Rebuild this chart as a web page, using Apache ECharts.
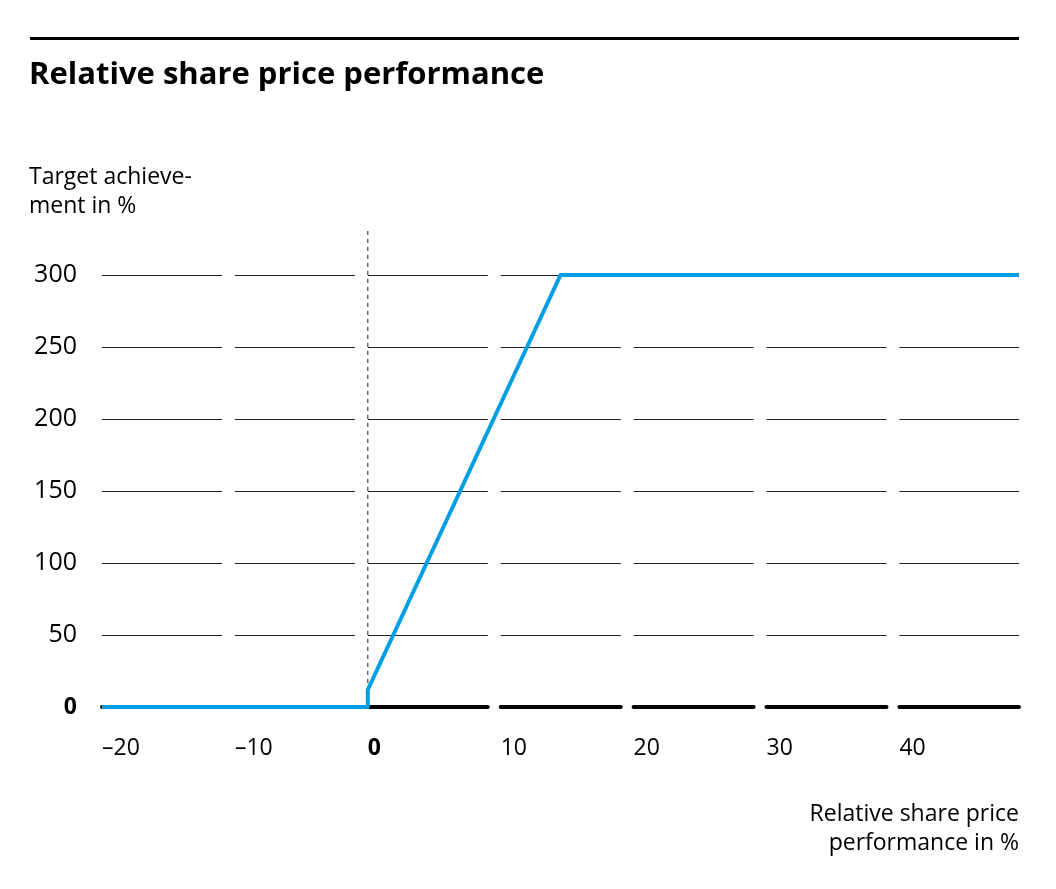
<!DOCTYPE html>
<html>
<head>
<meta charset="utf-8">
<script src="https://cdn.jsdelivr.net/npm/echarts@6/dist/echarts.min.js"></script>
<style>
html,body{margin:0;padding:0;background:#fff;}
#chart{width:1056px;height:889px;}
</style>
</head>
<body>
<div id="chart"></div>
<script>
const titleText = 'Relative share price performance';
const yAxisName = 'Target achieve-\nment in %';
const xAxisName = 'Relative share price\nperformance in %';
const performanceX = [-20, 0, 0, 14.5, 49];
const achievementY = [0, 0, 12, 300, 300];
const zeroMarkerX = [0, 0];
const zeroMarkerY = [0, 332];
const xMin = -20, xMax = 49, xStep = 10;
const yMin = 0, yMax = 300, yStep = 50;

const FONT = '"Open Sans", "Noto Sans", sans-serif';
const chart = echarts.init(document.getElementById('chart'));
const lineData = performanceX.map((x, i) => [x, achievementY[i]]);
const markerData = zeroMarkerX.map((x, i) => [x, zeroMarkerY[i]]);

chart.setOption({
  animation: false,
  backgroundColor: '#fff',
  graphic: [{
    type: 'line',
    shape: {x1: 30, y1: 38.5, x2: 1019, y2: 38.5},
    style: {stroke: '#000', lineWidth: 3}
  }],
  title: [
    {text: titleText, left: 29, top: 60, padding: 0,
     textStyle: {fontFamily: FONT, fontSize: 31, fontWeight: 'bold', color: '#000'}},
    {text: yAxisName, left: 29, top: 163, padding: 0,
     textStyle: {fontFamily: FONT, fontSize: 23, fontWeight: 'normal', color: '#000', lineHeight: 29}},
    {text: xAxisName, left: 1019, top: 800, padding: 0, textAlign: 'right',
     textStyle: {fontFamily: FONT, fontSize: 23, fontWeight: 'normal', color: '#000', lineHeight: 29}}
  ],
  grid: {left: 102, right: 37, top: 275, bottom: 182, containLabel: false},
  xAxis: {
    type: 'value', min: xMin, max: xMax, interval: xStep,
    axisLine: {show: true, onZero: false, lineStyle: {color: '#000', width: 4, type: [120, 12.9]}},
    axisTick: {show: false},
    splitLine: {show: false},
    axisLabel: {
      margin: 30, align: 'left', fontFamily: FONT, fontSize: 23, color: '#000',
      formatter: function (v) {
        if (v === 0) return '{b|0}';
        if (v % xStep !== 0) return '';
        return v < 0 ? '\u2013' + Math.abs(v) : String(v);
      },
      rich: {b: {fontFamily: FONT, fontSize: 23, fontWeight: 'bold', color: '#000'}}
    }
  },
  yAxis: {
    type: 'value', min: yMin, max: yMax, interval: yStep,
    axisLine: {show: false},
    axisTick: {show: false},
    splitLine: {show: true, lineStyle: {color: '#222', width: 1.2, type: [120, 12.9]}},
    axisLabel: {
      margin: 25, fontFamily: FONT, fontSize: 25, color: '#000',
      formatter: function (v) { return v === 0 ? '{b|0}' : String(v); },
      rich: {b: {fontFamily: FONT, fontSize: 23, fontWeight: 'bold', color: '#000'}}
    }
  },
  series: [
    {
      type: 'line', data: markerData, clip: false, symbol: 'none', z: 2,
      lineStyle: {color: '#444', width: 1.2, type: [4, 4]}
    },
    {
      type: 'line', data: lineData, symbol: 'none', z: 3, clip: false,
      lineStyle: {color: '#009FE3', width: 4, join: 'round', cap: 'butt'}
    }
  ]
});
</script>
</body>
</html>
